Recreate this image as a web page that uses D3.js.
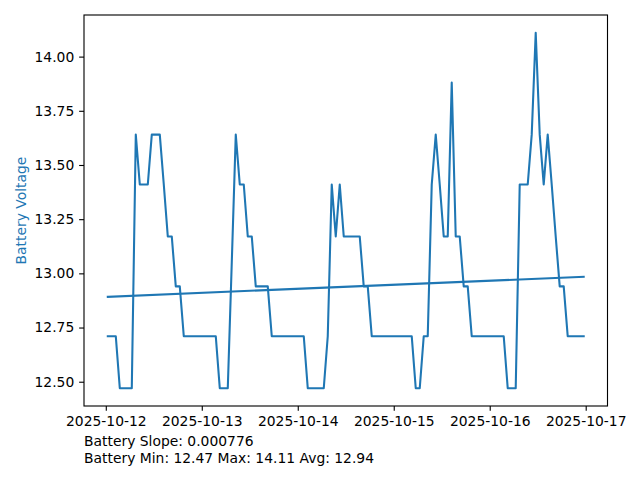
<!DOCTYPE html>
<html><head><meta charset="utf-8">
<script src="https://cdn.jsdelivr.net/npm/d3@7"></script>
<style>body{margin:0;background:#fff}svg{display:block}</style>
</head><body>
<svg id="chart" width="640" height="480"></svg>
<script>
// ---- data ----
const startTime = Date.UTC(2025, 9, 12, 0, 30); // first sample, hourly samples
const voltages = [
  12.71,12.71,12.71,12.47,12.47,12.47,12.47,13.64,13.41,13.41,
  13.41,13.64,13.64,13.64,13.41,13.17,13.17,12.94,12.94,12.71,
  12.71,12.71,12.71,12.71,12.71,12.71,12.71,12.71,12.47,12.47,
  12.47,13.05,13.64,13.41,13.41,13.17,13.17,12.94,12.94,12.94,
  12.94,12.71,12.71,12.71,12.71,12.71,12.71,12.71,12.71,12.71,
  12.47,12.47,12.47,12.47,12.47,12.71,13.41,13.17,13.41,13.17,
  13.17,13.17,13.17,13.17,12.94,12.94,12.71,12.71,12.71,12.71,
  12.71,12.71,12.71,12.71,12.71,12.71,12.71,12.47,12.47,12.71,
  12.71,13.41,13.64,13.41,13.17,13.17,13.88,13.17,13.17,12.94,
  12.94,12.71,12.71,12.71,12.71,12.71,12.71,12.71,12.71,12.71,
  12.47,12.47,12.47,13.41,13.41,13.41,13.64,14.11,13.64,13.41,
  13.64,13.41,13.17,12.94,12.94,12.71,12.71,12.71,12.71,12.71
];
const xTickDates = ["2025-10-12","2025-10-13","2025-10-14","2025-10-15","2025-10-16","2025-10-17"];
const yTickValues = [12.50, 12.75, 13.00, 13.25, 13.50, 13.75, 14.00];
const slopePerHour = 0.000776;
const yLabel = "Battery Voltage";
const statsLines = ["Battery Slope: 0.000776", "Battery Min: 12.47 Max: 14.11 Avg: 12.94"];

// ---- layout ----
const L = 84, R = 607.5, T = 15, B = 406;
const blue = "#1f77b4";
const font = "'DejaVu Sans', sans-serif";
const fs = 13.89;

const data = voltages.map((v, i) => ({ t: new Date(startTime + i * 3600e3), v, h: i }));
const t0 = data[0].t.getTime(), t1 = data[data.length - 1].t.getTime();
const span = t1 - t0;
const x = d3.scaleUtc().domain([new Date(t0 - 0.05 * span), new Date(t1 + 0.05 * span)]).range([L, R]);
const vmin = d3.min(voltages), vmax = d3.max(voltages), vr = vmax - vmin;
const y = d3.scaleLinear().domain([vmin - 0.05 * vr, vmax + 0.05 * vr]).range([B, T]);

const svg = d3.select("#chart");
svg.append("rect").attr("width", 640).attr("height", 480).attr("fill", "#fff");

// voltage line
const line = d3.line().x(d => x(d.t)).y(d => y(d.v));
svg.append("path").datum(data).attr("d", line).attr("fill", "none")
  .attr("stroke", blue).attr("stroke-width", 2.08).attr("stroke-linejoin", "round").attr("stroke-linecap", "square");

// trend line (slope per hour through the mean)
const meanV = d3.mean(voltages), meanH = d3.mean(data, d => d.h);
const trend = [data[0], data[data.length - 1]].map(d => ({ t: d.t, v: meanV + slopePerHour * (d.h - meanH) }));
svg.append("path").datum(trend).attr("d", line).attr("fill", "none")
  .attr("stroke", blue).attr("stroke-width", 2.08).attr("stroke-linecap", "square");

// axes
const tickLen = 4.86, pad = 4.86;
const xTicks = xTickDates.map(s => new Date(s + "T00:00:00Z"));
const xAxis = d3.axisBottom(x).tickValues(xTicks).tickFormat((d, i) => xTickDates[i])
  .tickSize(tickLen).tickPadding(pad);
const gx = svg.append("g").attr("transform", `translate(0,${B})`).call(xAxis);
const yAxis = d3.axisLeft(y).tickValues(yTickValues).tickFormat(d3.format(".2f"))
  .tickSize(tickLen).tickPadding(pad);
const gy = svg.append("g").attr("transform", `translate(${L},0)`).call(yAxis);
[gx, gy].forEach(g => {
  g.select(".domain").remove();
  g.selectAll(".tick line").attr("stroke", "#000").attr("stroke-width", 1.11);
  g.selectAll(".tick text").attr("fill", "#000").style("font-family", font).style("font-size", fs + "px");
});

// spines
svg.append("rect").attr("x", L).attr("y", T).attr("width", R - L).attr("height", B - T)
  .attr("fill", "none").attr("stroke", "#000").attr("stroke-width", 1.11);

// y label
svg.append("text").attr("transform", `translate(26,${(T + B) / 2}) rotate(-90)`)
  .attr("text-anchor", "middle").attr("fill", blue)
  .style("font-family", font).style("font-size", fs + "px").text(yLabel);

// stats text
svg.selectAll("text.stats").data(statsLines).enter().append("text").attr("class", "stats")
  .attr("x", L).attr("y", (d, i) => 446 + i * 16.5).attr("fill", "#000")
  .style("font-family", font).style("font-size", fs + "px").text(d => d);
</script>
</body></html>
